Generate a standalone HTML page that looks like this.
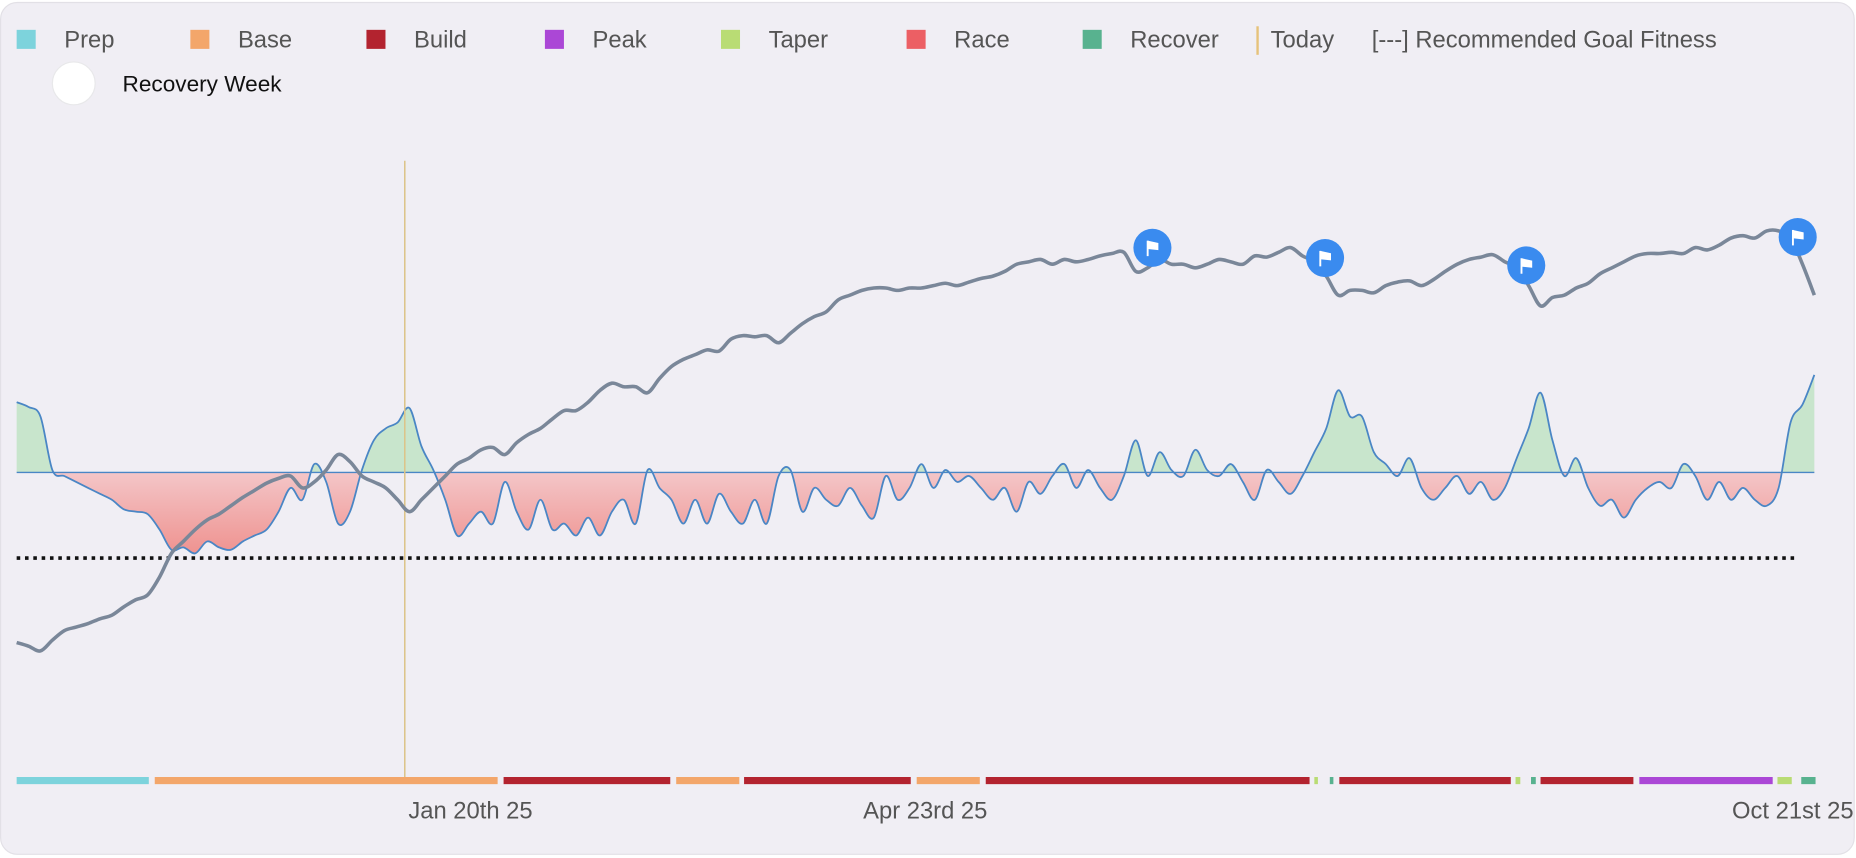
<!DOCTYPE html>
<html><head><meta charset="utf-8"><style>
html,body{margin:0;padding:0;background:#fff;}
svg{display:block;font-family:"Liberation Sans",sans-serif;}
</style></head><body>
<svg id="chart" width="1856" height="858" viewBox="0 0 1560 721" xmlns="http://www.w3.org/2000/svg">
<defs>
<clipPath id="aboveClip"><rect x="0" y="0" width="1560" height="397"/></clipPath>
<clipPath id="belowClip"><rect x="0" y="397" width="1560" height="330"/></clipPath>
<linearGradient id="redGrad" x1="0" y1="397" x2="0" y2="470" gradientUnits="userSpaceOnUse">
<stop offset="0" stop-color="#f4c6c8"/><stop offset="1" stop-color="#ee8f8c"/></linearGradient>
</defs>
<rect x="0.5" y="2" width="1558" height="716" rx="14" fill="#f0eef4" stroke="#e2e0e6"/>
<g id="legend" font-size="20" fill="#555"></g>
<g>
<circle cx="62" cy="70" r="18" fill="#fff" stroke="#e8e8ea"/>
<text x="103" y="77" font-size="19" fill="#111">Recovery Week</text>
</g>
<g id="plot"></g>
</svg>
<script>
const fitnessValues=[60,57,53,62,70,73,76,80,83,90,96,100,115,135,145,155,163,168,175,182,188,194,198,200,190,195,205,218,212,200,195,190,180,170,180,190,200,210,215,222,224,218,228,235,240,248,255,255,262,272,278,275,275,270,282,292,298,302,306,305,315,318,317,318,312,320,328,334,338,348,352,356,358,358,356,358,358,360,362,360,363,366,368,372,378,380,382,378,382,380,382,385,387,388,372,375,382,378,378,375,378,382,380,378,385,384,388,392,385,380,368,352,356,356,354,360,363,364,360,365,372,378,382,384,386,380,375,360,343,350,352,358,362,370,375,380,385,387,387,388,387,392,390,394,400,402,400,406,406,400,378,352];
const formValues=[59,55,47,2,-3,-8,-13,-18,-23,-31,-33,-35,-48,-65,-63,-68,-58,-63,-65,-58,-53,-48,-33,-13,-23,7,-8,-43,-33,2,27,37,42,54,22,2,-23,-53,-43,-33,-43,-8,-33,-48,-23,-48,-43,-53,-38,-53,-33,-23,-43,2,-13,-23,-43,-23,-43,-18,-33,-43,-23,-43,-3,2,-33,-13,-23,-28,-13,-28,-38,-3,-23,-13,7,-13,2,-8,-3,-13,-23,-13,-33,-8,-18,-3,7,-13,2,-13,-23,-3,27,-3,17,2,-3,19,2,-3,7,-8,-23,2,-8,-18,-3,17,37,69,47,47,17,7,-3,12,-13,-23,-13,-3,-18,-8,-23,-13,12,37,67,27,-3,12,-13,-28,-23,-38,-23,-13,-8,-13,7,-3,-23,-8,-23,-13,-23,-28,-13,42,57,82];
const phaseNames=["Prep","Base","Build","Base","Build","Base","Build","Taper","Recover","Build","Taper","Recover","Build","Peak","Taper","Recover"];
const phaseStarts=[0,11.6,40.9,55.4,61.1,75.6,81.4,109,110.3,111.1,125.9,127.2,128,136.3,147.9,149.9];
const phaseEnds=[11.1,40.4,54.9,60.7,75.1,80.9,108.6,109.3,110.6,125.5,126.3,127.6,135.8,147.5,149.1,151.1];
const raceIndices=[95.4,109.9,126.8,149.6];
const todayIndex=32.6;
const goalForm=-72;
const tickLabels=["Jan 20th 25","Apr 23rd 25","Oct 21st 25"];
const tickIndices=[32.6,70.8,151.1];
const legendNames=["Prep","Base","Build","Peak","Taper","Race","Recover"];
const phaseColors={Prep:"#7dd3dc",Base:"#f3a66a",Build:"#b3232f",Peak:"#ab47d6",Taper:"#b9dc74",Race:"#ec5f64",Recover:"#58b28f"};

const NS="http://www.w3.org/2000/svg";
const N=fitnessValues.length;
const x=i=>14+i*(1525-14)/(N-1);
const yF=v=>600-v;
const yT=v=>397-v;
function mk(tag,attrs,parent){const e=document.createElementNS(NS,tag);for(const k in attrs)e.setAttribute(k,attrs[k]);parent.appendChild(e);return e;}
function curve(pts){let d="M"+pts[0][0]+","+pts[0][1];for(let i=0;i<pts.length-1;i++){const p0=pts[Math.max(0,i-1)],p1=pts[i],p2=pts[i+1],p3=pts[Math.min(pts.length-1,i+2)];
d+=" C"+(p1[0]+(p2[0]-p0[0])/6)+","+(p1[1]+(p2[1]-p0[1])/6)+" "+(p2[0]-(p3[0]-p1[0])/6)+","+(p2[1]-(p3[1]-p1[1])/6)+" "+p2[0]+","+p2[1];}return d;}
const plot=document.getElementById('plot');
const legend=document.getElementById('legend');
const legendX=[14,160,308,458,606,762,910];
legendNames.forEach((n,i)=>{
 const r=mk('rect',{x:legendX[i],y:25,width:16,height:16,fill:phaseColors[n]},legend);
 
 
 const t=mk('text',{x:legendX[i]+40,y:40},legend);t.textContent=n;
 
 
});
const tl=mk('rect',{x:1056,y:22,width:2,height:24,fill:"#e6c27a"},legend);


const tt=mk('text',{x:1068,y:40},legend);tt.textContent="Today";


const gt=mk('text',{x:1153,y:40},legend);gt.textContent="[---] Recommended Goal Fitness";



const formPts=formValues.map((v,i)=>[x(i),yT(v)]);
const fd=curve(formPts);
const areaD=fd+" L"+x(N-1)+","+yT(0)+" L"+x(0)+","+yT(0)+" Z";
const ga=mk('path',{d:areaD,fill:"#c8e5cc","clip-path":"url(#aboveClip)"},plot);


const ra=mk('path',{d:areaD,fill:"url(#redGrad)","clip-path":"url(#belowClip)"},plot);


const zl=mk('line',{x1:x(0),x2:x(N-1),y1:yT(0),y2:yT(0),stroke:"#4a86c5","stroke-width":1.2},plot);


const fl=mk('path',{d:fd,fill:"none",stroke:"#4a86c5","stroke-width":1.5},plot);


const gl=mk('line',{x1:14,x2:1510,y1:yT(goalForm),y2:yT(goalForm),stroke:"#111","stroke-width":3,"stroke-dasharray":"3,4"},plot);


const td=mk('line',{x1:x(todayIndex),x2:x(todayIndex),y1:135,y2:655,stroke:"#dcc48a","stroke-width":1.3},plot);


const fitPts=fitnessValues.map((v,i)=>[x(i),yF(v)]);
const fit=mk('path',{d:curve(fitPts),fill:"none",stroke:"#7a8799","stroke-width":3,"stroke-linejoin":"round"},plot);


raceIndices.forEach((ri,k)=>{
 const i0=Math.floor(ri),fr=ri-i0;const v=fitnessValues[i0]*(1-fr)+fitnessValues[Math.min(N-1,i0+1)]*fr;
 const cx=x(ri),cy=yF(v)-14;
 const g=mk('g',{},plot);
 
 
 mk('circle',{cx:cx,cy:cy,r:16,fill:"#3a8bef"},g);
 mk('line',{x1:cx-4,x2:cx-4,y1:cy-6,y2:cy+7,stroke:"#fff","stroke-width":1.6},g);
 mk('path',{d:"M"+(cx-4)+","+(cy-6)+" L"+(cx+5)+","+(cy-4)+" L"+(cx+5)+","+(cy+2)+" L"+(cx-4)+","+(cy+1)+" Z",fill:"#fff"},g);
});
phaseNames.forEach((n,i)=>{
 const r=mk('rect',{x:x(phaseStarts[i]),y:653,width:Math.max(2,x(phaseEnds[i])-x(phaseStarts[i])),height:6,fill:phaseColors[n]},plot);
 
 
});
tickLabels.forEach((l,i)=>{
 const last=i===tickLabels.length-1;
 const t=mk('text',{x:last?1558:x(tickIndices[i])+3,y:688,"font-size":20,fill:"#555","text-anchor":last?"end":"start"},plot);
 t.textContent=l;
 
 
});
</script>
</body></html>
